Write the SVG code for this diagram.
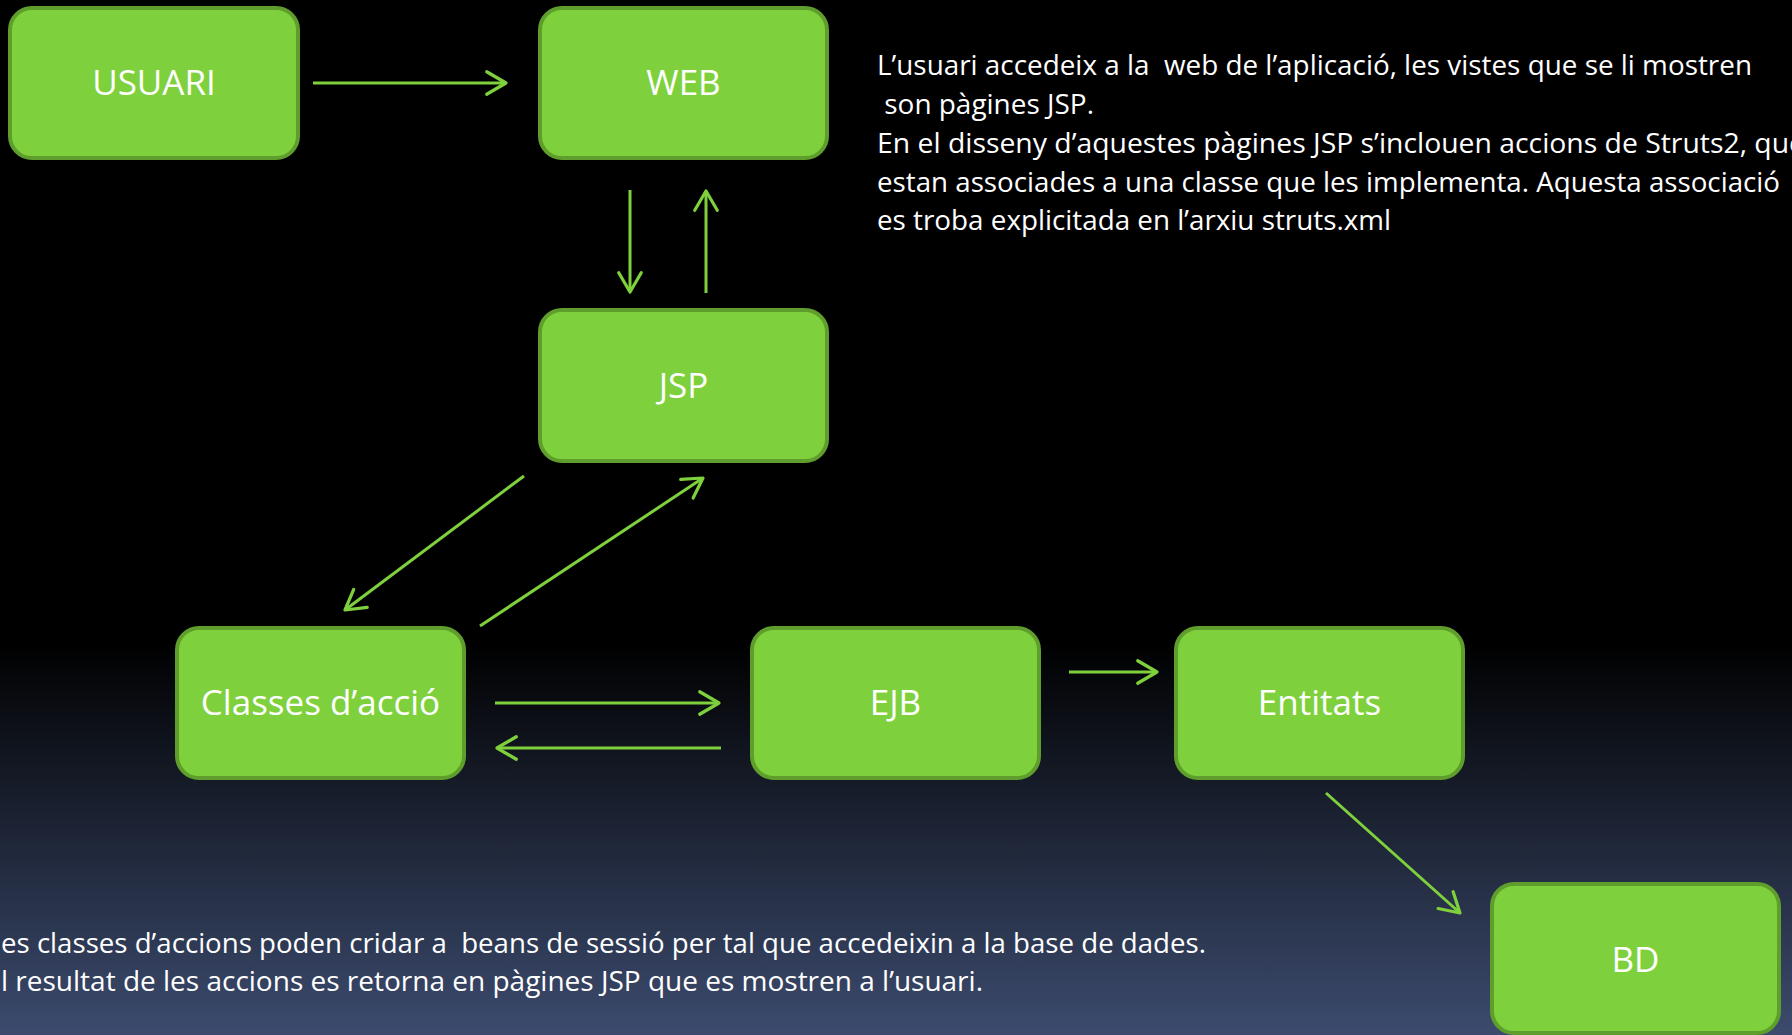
<svg xmlns="http://www.w3.org/2000/svg" width="1792" height="1035" viewBox="0 0 1792 1035">
<defs>
<linearGradient id="bg" x1="0" y1="0" x2="0" y2="1035" gradientUnits="userSpaceOnUse">
<stop offset="0" stop-color="#000000"/>
<stop offset="0.62" stop-color="#000000"/>
<stop offset="1" stop-color="#3c4b6e"/>
</linearGradient>
<marker id="arr" markerUnits="userSpaceOnUse" markerWidth="30" markerHeight="30" viewBox="-22 -14 26 28" refX="0" refY="0" orient="auto">
<path d="M-18,-10.5 L0,0 L-18,10.5" fill="none" stroke="#7ed13c" stroke-width="3" stroke-linecap="round" stroke-linejoin="round"/>
</marker>
<style>
.box{fill:#7ed13c;stroke:#5f9e2d;stroke-width:4}
.lbl{font-family:"Open Sans","Noto Sans","Liberation Sans",sans-serif;font-size:35px;fill:#ffffff;text-anchor:middle}
.para{font-family:"Open Sans","Noto Sans","Liberation Sans",sans-serif;font-size:27.5px;fill:#ffffff;white-space:pre}
.con{stroke:#7ed13c;stroke-width:3;fill:none;marker-end:url(#arr)}
</style>
</defs>
<rect x="0" y="0" width="1792" height="1035" fill="url(#bg)"/>

<g id="connectors">
<line class="con" x1="313" y1="83" x2="506" y2="83"/>
<line class="con" x1="630" y1="190" x2="630" y2="292"/>
<line class="con" x1="706" y1="293" x2="706" y2="191"/>
<line class="con" x1="524" y1="476" x2="345" y2="610"/>
<line class="con" x1="480" y1="626" x2="703" y2="478"/>
<line class="con" x1="495" y1="703" x2="719" y2="703"/>
<line class="con" x1="721" y1="748" x2="497" y2="748"/>
<line class="con" x1="1069" y1="672" x2="1157" y2="672"/>
<line class="con" x1="1326" y1="793" x2="1460" y2="913"/>
</g>

<g id="node-usuari">
<rect class="box" x="10" y="8" width="288" height="150" rx="22"/>
<text class="lbl" x="154" y="95">USUARI</text>
</g>
<g id="node-web">
<rect class="box" x="540" y="8" width="287" height="150" rx="22"/>
<text class="lbl" x="683.5" y="95">WEB</text>
</g>
<g id="node-jsp">
<rect class="box" x="540" y="310" width="287" height="151" rx="22"/>
<text class="lbl" x="683.5" y="398">JSP</text>
</g>
<g id="node-classes">
<rect class="box" x="177" y="628" width="287" height="150" rx="22"/>
<text class="lbl" x="320.5" y="715">Classes d’acció</text>
</g>
<g id="node-ejb">
<rect class="box" x="752" y="628" width="287" height="150" rx="22"/>
<text class="lbl" x="895.5" y="715">EJB</text>
</g>
<g id="node-entitats">
<rect class="box" x="1176" y="628" width="287" height="150" rx="22"/>
<text class="lbl" x="1319.5" y="715">Entitats</text>
</g>
<g id="node-bd">
<rect class="box" x="1492" y="884" width="287" height="149" rx="22"/>
<text class="lbl" x="1635.5" y="972">BD</text>
</g>

<g id="text-top">
<text class="para" x="877" y="75" textLength="875" lengthAdjust="spacingAndGlyphs">L’usuari accedeix a la  web de l’aplicació, les vistes que se li mostren</text>
<text class="para" x="877" y="114" textLength="217" lengthAdjust="spacingAndGlyphs"> son pàgines JSP.</text>
<text class="para" x="877" y="153" textLength="928" lengthAdjust="spacingAndGlyphs">En el disseny d’aquestes pàgines JSP s’inclouen accions de Struts2, que</text>
<text class="para" x="877" y="192" textLength="903" lengthAdjust="spacingAndGlyphs">estan associades a una classe que les implementa. Aquesta associació</text>
<text class="para" x="877" y="230" textLength="514" lengthAdjust="spacingAndGlyphs">es troba explicitada en l’arxiu struts.xml</text>
</g>
<g id="text-bottom">
<text class="para" x="1" y="953" textLength="1205" lengthAdjust="spacingAndGlyphs">es classes d’accions poden cridar a  beans de sessió per tal que accedeixin a la base de dades.</text>
<text class="para" x="1" y="991" textLength="982" lengthAdjust="spacingAndGlyphs">l resultat de les accions es retorna en pàgines JSP que es mostren a l’usuari.</text>
</g>
</svg>
